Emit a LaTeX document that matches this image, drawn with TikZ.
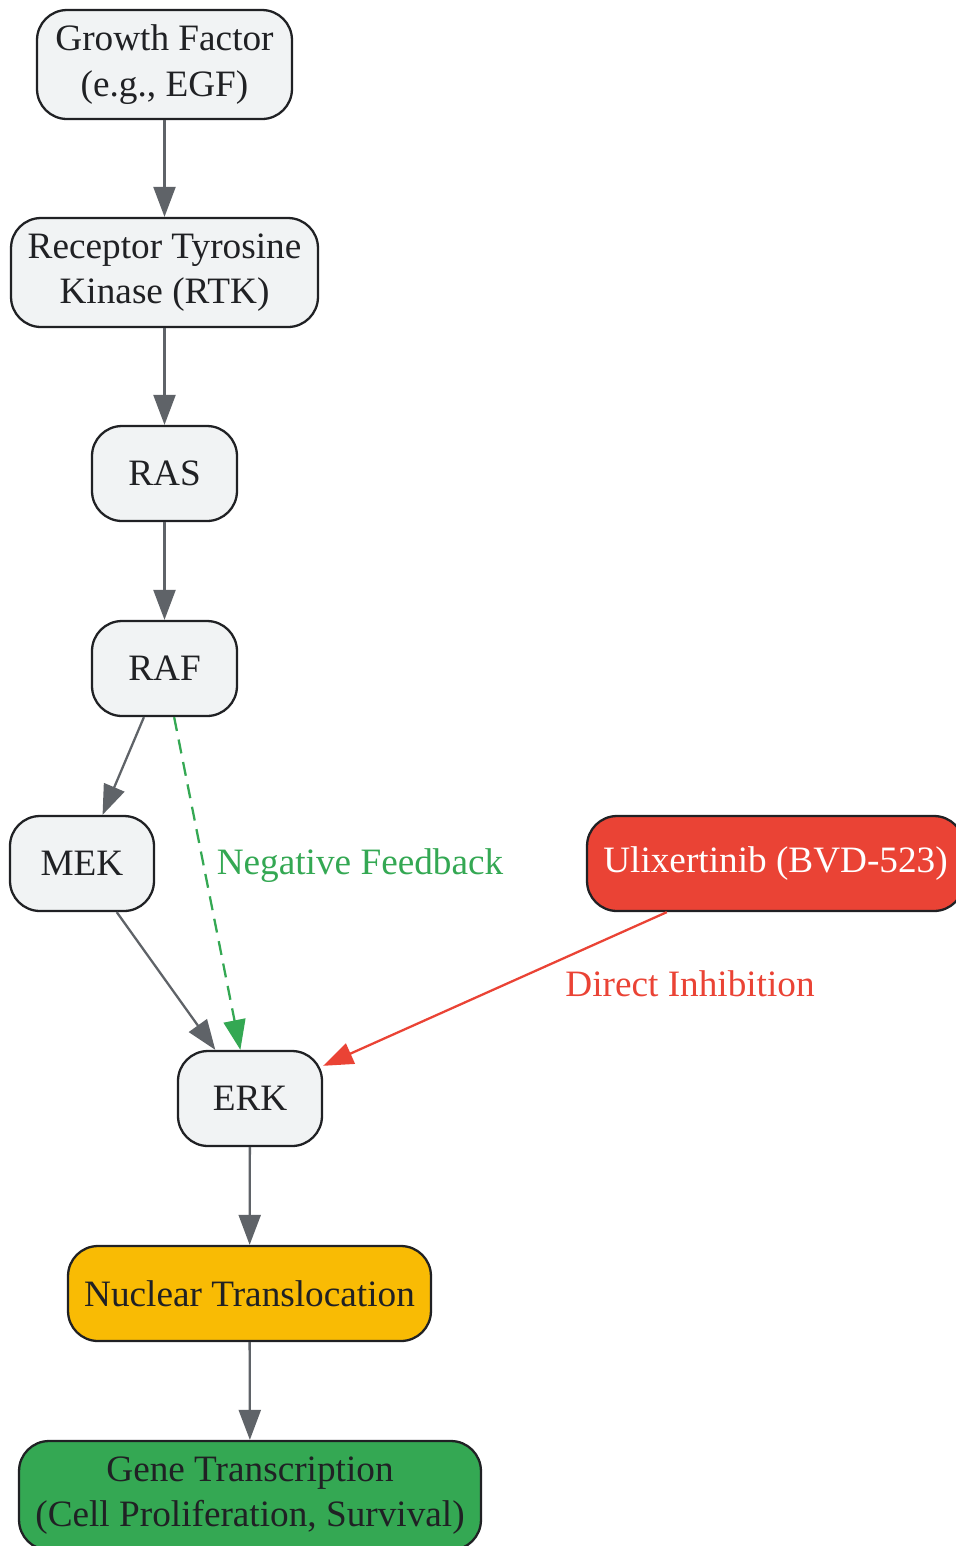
\documentclass[tikz,border=0pt]{standalone}
\usepackage{fontspec}
\setmainfont{Liberation Serif}
\usepackage{tikz}
\usetikzlibrary{arrows.meta, positioning}
\definecolor{NodeGray}{HTML}{F1F3F4}
\definecolor{EdgeGray}{HTML}{5F6368}
\definecolor{InkDark}{HTML}{202124}
\definecolor{DrugRed}{HTML}{EA4335}
\definecolor{FeedGreen}{HTML}{34A853}
\definecolor{NucYellow}{HTML}{F9BB04}
\tikzset{
  % Box styles
  pathbox/.style={rectangle, rounded corners=0.6cm, draw=InkDark, line width=1.3pt, fill=NodeGray, text=InkDark, minimum height=1.9cm, font=\fontsize{21.2}{25.8}\selectfont, align=center, inner sep=2pt},
  drugbox/.style={pathbox, fill=DrugRed, text=white},
  nucbox/.style={pathbox, fill=NucYellow},
  genebox/.style={pathbox, fill=FeedGreen},
  % Arrow styles
  arrow/.style={-{Triangle[length=0.6cm, width=0.44cm]}, line width=1.3pt, EdgeGray},
  fbarrow/.style={arrow, FeedGreen, dashed, dash pattern=on 8pt off 5pt},
  inhibarrow/.style={arrow, DrugRed},
  edgelabel/.style={font=\fontsize{21.2}{25.8}\selectfont}
}
\begin{document}
\begin{tikzpicture}[x=0.02cm, y=-0.02cm]
  \useasboundingbox (0,0) rectangle (956,1546);
  % Main cascade
  \node[pathbox, minimum width=5.1cm, minimum height=2.18cm] (gf) at (164.5,64.5) {Growth Factor\\(e.g., EGF)};
  \node[pathbox, minimum width=6.14cm, minimum height=2.18cm] (rtk) at (164.5,272.5) {Receptor Tyrosine\\Kinase (RTK)};
  \node[pathbox, minimum width=2.9cm] (ras) at (164.5,473.5) {RAS};
  \node[pathbox, minimum width=2.9cm] (raf) at (164.5,668.5) {RAF};
  \node[pathbox, minimum width=2.88cm] (mek) at (82,863.5) {MEK};
  \node[pathbox, minimum width=2.88cm] (erk) at (250,1098.5) {ERK};
  \node[nucbox, minimum width=7.26cm] (nuc) at (249.5,1293.5) {Nuclear Translocation};
  \node[genebox, minimum width=9.24cm, minimum height=2.18cm] (gene) at (250,1495.5) {Gene Transcription\\(Cell Proliferation, Survival)};

  % Inhibitor
  \node[drugbox, minimum width=7.54cm] (drug) at (775.5,863.5) {Ulixertinib (BVD-523)};

  \draw[arrow] (gf) -- (rtk);
  \draw[arrow] (rtk) -- (ras);
  \draw[arrow] (ras) -- (raf);
  \draw[arrow] (raf) -- (mek);
  \draw[arrow] (mek) -- (erk);
  \draw[arrow] (erk) -- (nuc);
  \draw[arrow] (nuc) -- (gene);

  % Feedback and inhibition
  \draw[fbarrow] (raf) -- (erk);
  \node[edgelabel, text=FeedGreen] (fblabel) at (360,866) {Negative Feedback};
  \draw[inhibarrow] (drug) -- (erk);
  \node[edgelabel, text=DrugRed] (inhlabel) at (690,984) {Direct Inhibition};
\end{tikzpicture}
\end{document}
